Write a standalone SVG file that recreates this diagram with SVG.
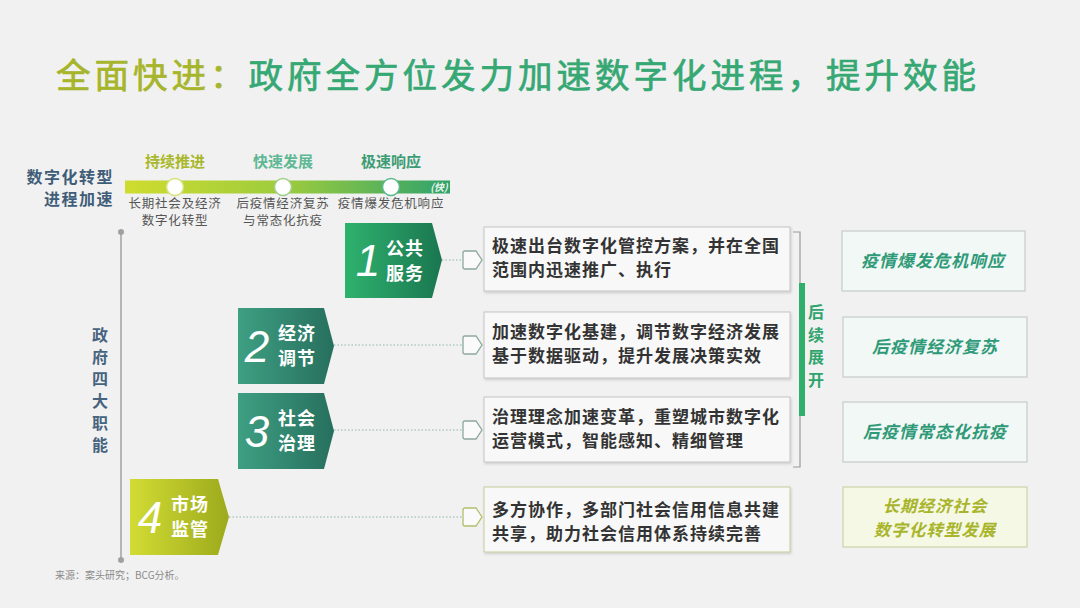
<svg xmlns="http://www.w3.org/2000/svg" width="1080" height="608" viewBox="0 0 1080 608">
<defs>
<style>
.cjk{font-family:"Noto Sans CJK SC","Noto Sans",sans-serif;}
.title{font-size:34.5px;letter-spacing:4px;font-weight:normal;stroke-width:0.7px;}
.lbl{font-size:16px;font-weight:bold;fill:#3f5d78;letter-spacing:1.5px;}
.phase{font-size:15px;font-weight:bold;text-anchor:middle;}
.sub{font-size:12.5px;fill:#555;text-anchor:middle;letter-spacing:0.8px;}
.num{font-family:"Liberation Sans",Arial,sans-serif;font-style:italic;font-size:44px;fill:#fff;text-anchor:middle;}
.nl{font-size:18px;font-weight:bold;fill:#fff;text-anchor:middle;letter-spacing:1px;}
.bt{font-size:17px;font-weight:bold;fill:#333;letter-spacing:1px;}
.box{fill:#f8f8f8;stroke:#c4c4c4;stroke-width:1;}
.rb{fill:#f2f8f6;stroke:#c6cccb;stroke-width:1.2;}
.rt{font-size:17px;font-weight:bold;font-style:italic;fill:#2f9a78;text-anchor:middle;letter-spacing:1px;}
.dot{stroke:#8fb8a8;stroke-width:1.2;stroke-dasharray:1.5 2;fill:none;}
.tab{fill:#fafafa;stroke:#8da89c;stroke-width:1.3;}
.vt{font-size:16px;font-weight:bold;writing-mode:vertical-rl;}
</style>
<linearGradient id="gBar" x1="0" y1="0" x2="1" y2="0">
<stop offset="0" stop-color="#cfdc2e"/>
<stop offset="0.5" stop-color="#9ccb3e"/>
<stop offset="1" stop-color="#2ea26c"/>
</linearGradient>
<linearGradient id="g1" x1="0" y1="0" x2="1" y2="0">
<stop offset="0" stop-color="#2fb26e"/>
<stop offset="1" stop-color="#1a7650"/>
</linearGradient>
<linearGradient id="g2" x1="0" y1="0" x2="1" y2="0">
<stop offset="0" stop-color="#3e9f82"/>
<stop offset="1" stop-color="#276f5e"/>
</linearGradient>
<linearGradient id="g4" x1="0" y1="0" x2="1" y2="0">
<stop offset="0" stop-color="#d2dc34"/>
<stop offset="1" stop-color="#9caa1c"/>
</linearGradient>
<filter id="sh" x="-5%" y="-10%" width="110%" height="130%">
<feDropShadow dx="1" dy="1.5" stdDeviation="1" flood-color="#000" flood-opacity="0.15"/>
</filter>
</defs>

<rect width="1080" height="608" fill="#f1f1f1"/>

<g id="title">
<text class="cjk title" x="56" y="88"><tspan fill="#a6b52b" stroke="#a6b52b">全面快进：</tspan><tspan fill="#36a874" stroke="#36a874">政府全方位发力加速数字化进程，提升效能</tspan></text>
</g>

<g id="timeline">
<text class="cjk lbl" x="114" y="183" text-anchor="end">数字化转型</text>
<text class="cjk lbl" x="114" y="205" text-anchor="end">进程加速</text>
<rect x="125" y="180.5" width="325" height="13" fill="url(#gBar)"/>
<text class="cjk" x="439" y="191" font-size="10" font-style="italic" font-weight="bold" fill="#e6f4ea" text-anchor="middle">(快)</text>
<circle cx="175" cy="187" r="8.5" fill="#fff" stroke="#d8e27a" stroke-width="1.5"/>
<circle cx="283" cy="187" r="8.5" fill="#fff" stroke="#9fcf8a" stroke-width="1.5"/>
<circle cx="391" cy="187" r="8.5" fill="#fff" stroke="#5cb88c" stroke-width="1.5"/>
<text class="cjk phase" x="175" y="167" fill="#a9b82a">持续推进</text>
<text class="cjk phase" x="283" y="167" fill="#5eb894">快速发展</text>
<text class="cjk phase" x="391" y="167" fill="#3c9c74">极速响应</text>
<text class="cjk sub" x="175" y="208">长期社会及经济<tspan x="175" dy="17">数字化转型</tspan></text>
<text class="cjk sub" x="283" y="208">后疫情经济复苏<tspan x="283" dy="17">与常态化抗疫</tspan></text>
<text class="cjk sub" x="391" y="208">疫情爆发危机响应</text>
</g>

<g id="axis">
<line x1="121" y1="232" x2="121" y2="560" stroke="#a0a0a0" stroke-width="1.5"/>
<circle cx="121" cy="232" r="3" fill="#a0a0a0"/>
<circle cx="121" cy="560" r="3" fill="#a0a0a0"/>
<text class="cjk vt" fill="#47647f" x="100" y="327" letter-spacing="6">政府四大职能</text>
</g>

<g id="connectors">
<line class="dot" x1="442" y1="260" x2="463" y2="260"/>
<line class="dot" x1="334" y1="345" x2="463" y2="345"/>
<line class="dot" x1="334" y1="430" x2="463" y2="430"/>
<line class="dot" x1="229" y1="517" x2="463" y2="517"/>
<path class="tab" d="M465,251 H476 L482,260 L476,269 H465 Q463,269 463,267 V253 Q463,251 465,251 Z"/>
<path class="tab" d="M465,336 H476 L482,345 L476,354 H465 Q463,354 463,352 V338 Q463,336 465,336 Z"/>
<path class="tab" d="M465,421 H476 L482,430 L476,439 H465 Q463,439 463,437 V423 Q463,421 465,421 Z"/>
<path class="tab" d="M465,508 H476 L482,517 L476,526 H465 Q463,526 463,524 V510 Q463,508 465,508 Z" style="stroke:#b4be6a"/>
</g>

<g id="node1">
<path d="M345,223 H432 L442,260 L432,298 H345 Z" fill="url(#g1)"/>
<text class="num" x="368" y="276">1</text>
<text class="cjk nl" x="405" y="255">公共<tspan x="405" dy="25">服务</tspan></text>
</g>
<g id="node2">
<path d="M238,308 H324 L334,346 L324,384 H238 Z" fill="url(#g2)"/>
<text class="num" x="257" y="362">2</text>
<text class="cjk nl" x="297" y="340">经济<tspan x="297" dy="25">调节</tspan></text>
</g>
<g id="node3">
<path d="M238,393 H324 L334,431 L324,469 H238 Z" fill="url(#g2)"/>
<text class="num" x="257" y="447">3</text>
<text class="cjk nl" x="297" y="425">社会<tspan x="297" dy="25">治理</tspan></text>
</g>
<g id="node4">
<path d="M130,479 H218 L229,517 L218,555 H130 Z" fill="url(#g4)"/>
<text class="num" x="150" y="533">4</text>
<text class="cjk nl" x="190" y="511">市场<tspan x="190" dy="25">监管</tspan></text>
</g>

<g id="box1">
<rect class="box" x="484" y="227" width="306" height="64" filter="url(#sh)"/>
<text class="cjk bt" x="492" y="252">极速出台数字化管控方案，并在全国<tspan x="492" dy="24">范围内迅速推广、执行</tspan></text>
</g>
<g id="box2">
<rect class="box" x="484" y="312" width="306" height="66" filter="url(#sh)"/>
<text class="cjk bt" x="492" y="338">加速数字化基建，调节数字经济发展<tspan x="492" dy="24">基于数据驱动，提升发展决策实效</tspan></text>
</g>
<g id="box3">
<rect class="box" x="484" y="397" width="306" height="65" filter="url(#sh)"/>
<text class="cjk bt" x="492" y="423">治理理念加速变革，重塑城市数字化<tspan x="492" dy="24">运营模式，智能感知、精细管理</tspan></text>
</g>
<g id="box4">
<rect class="box" x="484" y="487" width="306" height="65" filter="url(#sh)" style="stroke:#c6cc9a"/>
<text class="cjk bt" x="492" y="516">多方协作，多部门社会信用信息共建<tspan x="492" dy="24">共享，助力社会信用体系持续完善</tspan></text>
</g>

<g id="bracket">
<path d="M793,232 H800 V467 H793" fill="none" stroke="#9a9a9a" stroke-width="1.2"/>
<rect x="799" y="283" width="6" height="133" fill="#2fae6c"/>
<text class="cjk vt" fill="#2fa46c" x="816" y="304" letter-spacing="6.7">后续展开</text>
</g>

<g id="r1">
<rect class="rb" x="842" y="231" width="183" height="60"/>
<text class="cjk rt" x="933" y="267">疫情爆发危机响应</text>
</g>
<g id="r2">
<rect class="rb" x="843" y="317" width="184" height="60"/>
<text class="cjk rt" x="935" y="353">后疫情经济复苏</text>
</g>
<g id="r3">
<rect class="rb" x="843" y="402" width="184" height="60"/>
<text class="cjk rt" x="935" y="438">后疫情常态化抗疫</text>
</g>
<g id="r4">
<rect class="rb" x="843" y="487" width="184" height="60" style="fill:#f6f8e6;stroke:#cdd2a6"/>
<text class="cjk rt" x="935" y="512" style="fill:#a8b52a;font-size:16.5px">长期经济社会<tspan x="935" dy="24">数字化转型发展</tspan></text>
</g>

<text class="cjk" x="55" y="579" font-size="10" fill="#8a8a8a">来源：案头研究；BCG分析。</text>
</svg>
